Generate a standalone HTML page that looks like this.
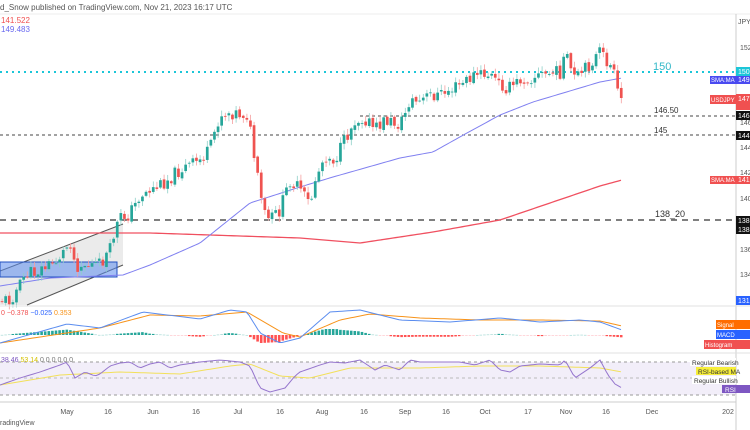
<!DOCTYPE html>
<html><head><meta charset="utf-8"><style>
body{margin:0;background:#fff;width:750px;height:430px;overflow:hidden;font-family:"Liberation Sans",sans-serif}
svg{display:block}
text{font-family:"Liberation Sans",sans-serif}
</style></head><body>
<svg id="s" width="750" height="430" xmlns="http://www.w3.org/2000/svg">
<rect width="750" height="430" fill="#fff"/>
<text x="0" y="10" font-size="8" fill="#555">d_Snow published on TradingView.com, Nov 21, 2023 16:17 UTC</text>
<line x1="0" y1="14" x2="750" y2="14" stroke="#eee"/>
<text x="1" y="23" font-size="8" fill="#f05050">141.522</text>
<text x="1" y="32" font-size="8" fill="#6a6af0">149.483</text>
<polygon points="0,271 123,224 123,265 27,305 0,305" fill="#e6e6e6" opacity="0.8"/>
<line x1="0" y1="271" x2="123" y2="224" stroke="#555" stroke-width="1"/>
<line x1="27" y1="305" x2="123" y2="265" stroke="#555" stroke-width="1"/>
<rect x="0" y="262" width="117" height="15" fill="#5b8def" fill-opacity="0.55" stroke="#2250c0" stroke-width="1"/>
<line x1="0" y1="72" x2="736" y2="72" stroke="#1cc6d8" stroke-width="2" stroke-dasharray="2,4"/>
<text x="653" y="70" font-size="11" fill="#35b8c8">150</text>
<line x1="360" y1="116" x2="736" y2="116" stroke="#444" stroke-dasharray="3,3"/>
<text x="654" y="113" font-size="8" fill="#333">146.50</text>
<line x1="0" y1="135" x2="736" y2="135" stroke="#444" stroke-dasharray="3,3"/>
<text x="654" y="133" font-size="8" fill="#333">145</text>
<line x1="0" y1="220" x2="736" y2="220" stroke="#333" stroke-width="1.3" stroke-dasharray="6,5"/>
<text x="655" y="217" font-size="9" fill="#333">138_20</text>
<g id="main"></g>
<line x1="736" y1="14" x2="736" y2="430" stroke="#ccc"/>
<g font-size="7" fill="#555">
<text x="738" y="24">JPY</text>
<text x="740" y="50">152.</text><text x="740" y="125">146.</text><text x="740" y="150">144.</text>
<text x="740" y="175">142.</text><text x="740" y="201">140.</text><text x="740" y="252">136.</text><text x="740" y="277">134.</text>
</g>
<rect x="736" y="67" width="14" height="9" fill="#1cc6d8"/><text x="738" y="74" font-size="7" fill="#fff">150.</text>
<rect x="710" y="76" width="26" height="8" fill="#4a4af0"/><text x="711" y="82" font-size="6" fill="#fff">SMA:MA</text>
<rect x="736" y="76" width="14" height="8" fill="#4a4af0"/><text x="738" y="82" font-size="7" fill="#fff">149</text>
<rect x="710" y="95" width="26" height="9" fill="#f05050"/><text x="711" y="102" font-size="6" fill="#fff">USDJPY</text>
<rect x="736" y="94" width="14" height="16" fill="#f05050"/><text x="738" y="101" font-size="7" fill="#fff">147</text>
<rect x="736" y="111" width="14" height="9" fill="#111"/><text x="738" y="118" font-size="7" fill="#fff">146</text>
<rect x="736" y="131" width="14" height="9" fill="#111"/><text x="738" y="138" font-size="7" fill="#fff">144</text>
<rect x="710" y="176" width="26" height="8" fill="#f05050"/><text x="711" y="182" font-size="6" fill="#fff">SMA:MA</text>
<rect x="736" y="176" width="14" height="8" fill="#f05050"/><text x="738" y="182" font-size="7" fill="#fff">141</text>
<rect x="736" y="216" width="14" height="18" fill="#111"/><text x="738" y="223" font-size="7" fill="#fff">138</text><text x="738" y="232" font-size="7" fill="#fff">138</text>
<rect x="736" y="296" width="14" height="9" fill="#2962ff"/><text x="738" y="303" font-size="7" fill="#fff">131</text>
<line x1="0" y1="306" x2="750" y2="306" stroke="#e0e0e0"/>
<text x="1" y="315" font-size="7"><tspan fill="#f05050">0  −0.378</tspan><tspan fill="#2962ff"> −0.025</tspan><tspan fill="#f7931a"> 0.353</tspan></text>
<g id="macd"></g>
<rect x="716" y="320" width="20" height="9" fill="#ff6d00"/><text x="717" y="327" font-size="6" fill="#fff">Signal</text>
<rect x="736" y="320" width="14" height="9" fill="#ff6d00"/>
<rect x="716" y="330" width="20" height="9" fill="#2962ff"/><text x="717" y="337" font-size="6" fill="#fff">MACD</text>
<rect x="736" y="330" width="14" height="9" fill="#2962ff"/>
<rect x="704" y="340" width="32" height="9" fill="#f05050"/><text x="705" y="347" font-size="6" fill="#fff">Histogram</text>
<rect x="736" y="340" width="14" height="9" fill="#f05050"/>
<line x1="0" y1="353" x2="750" y2="353" stroke="#e0e0e0"/>
<rect x="0" y="362" width="736" height="33" fill="#7e57c2" fill-opacity="0.1"/>
<line x1="0" y1="362" x2="736" y2="362" stroke="#999" stroke-dasharray="3,3"/>
<line x1="0" y1="378" x2="736" y2="378" stroke="#bbb" stroke-dasharray="3,3"/>
<line x1="0" y1="395" x2="736" y2="395" stroke="#999" stroke-dasharray="3,3"/>
<text x="1" y="362" font-size="7"><tspan fill="#7e57c2">38.46</tspan><tspan fill="#d4c000"> 53.14</tspan><tspan fill="#777">  0  0  0  0  0  0</tspan></text>
<g id="rsi"></g>
<rect x="690" y="358" width="46" height="8" fill="#fff"/><text x="692" y="365" font-size="6.5" fill="#333">Regular Bearish</text>
<rect x="696" y="367" width="40" height="8" fill="#f6ee3a"/><text x="698" y="374" font-size="6.5" fill="#333">RSI-based MA</text>
<rect x="692" y="376" width="44" height="8" fill="#fff"/><text x="694" y="383" font-size="6.5" fill="#333">Regular Bullish</text>
<rect x="722" y="385" width="14" height="8" fill="#7e57c2"/><text x="725" y="392" font-size="6.5" fill="#fff">RSI</text>
<rect x="736" y="385" width="14" height="8" fill="#7e57c2"/>
<line x1="0" y1="402" x2="736" y2="402" stroke="#ccc"/>
<g font-size="7" fill="#555" text-anchor="middle">
<text x="67" y="414">May</text><text x="108" y="414">16</text><text x="153" y="414">Jun</text><text x="196" y="414">16</text>
<text x="238" y="414">Jul</text><text x="280" y="414">16</text><text x="322" y="414">Aug</text><text x="364" y="414">16</text>
<text x="405" y="414">Sep</text><text x="446" y="414">16</text><text x="485" y="414">Oct</text><text x="528" y="414">17</text>
<text x="566" y="414">Nov</text><text x="606" y="414">16</text><text x="652" y="414">Dec</text><text x="728" y="414">202</text>
</g>
<text x="0" y="425" font-size="7" fill="#555">radingView</text>
</svg>
<script>
const NS="http://www.w3.org/2000/svg";
function interp(pts,x){for(let i=0;i<pts.length-1;i++){const a=pts[i],b=pts[i+1];if(x>=a[0]&&x<=b[0]){return a[1]+(b[1]-a[1])*(x-a[0])/(b[0]-a[0]);}}return x<pts[0][0]?pts[0][1]:pts[pts.length-1][1];}
function poly(g,pts,col,w){const p=document.createElementNS(NS,"polyline");p.setAttribute("points",pts.map(q=>q.join(",")).join(" "));p.setAttribute("fill","none");p.setAttribute("stroke",col);p.setAttribute("stroke-width",w||1);g.appendChild(p);}
function rect(g,x,y,w,h,c){const r=document.createElementNS(NS,"rect");r.setAttribute("x",x);r.setAttribute("y",y);r.setAttribute("width",w);r.setAttribute("height",Math.max(h,0.8));r.setAttribute("fill",c);g.appendChild(r);}
let seed=11;function rnd(){seed=(seed*9301+49297)%233280;return seed/233280;}
const main=document.getElementById("main");
const red=[[0,233],[150,233],[300,238],[360,243],[433,232],[500,220],[600,186],[622,180]];
const blue=[[0,286],[50,278],[123,275],[150,265],[200,243],[250,203],[300,187],[333,177],[400,158],[433,152],[467,133],[500,115],[533,102],[600,82],[622,78]];
const P=(arr)=>{const o=[];for(let x=arr[0][0];x<=arr[arr.length-1][0];x+=3)o.push([x,interp(arr,x)]);return o;};
poly(main,P(red),"#f05060",1.3);poly(main,P(blue),"#8080f0",1);
const cl=[[2,300],[10,300],[20,285],[25,275],[40,270],[55,262],[65,250],[70,240],[75,265],[85,265],[100,265],[110,250],[115,230],[120,218],[128,215],[135,205],[140,195],[160,185],[180,170],[200,160],[210,150],[215,130],[220,115],[230,112],[248,115],[253,150],[260,195],[265,215],[270,220],[280,210],[290,180],[300,190],[310,205],[315,180],[325,155],[335,160],[345,140],[355,120],[365,118],[375,130],[385,120],[400,125],[410,100],[420,102],[430,95],[440,95],[460,85],[475,75],[490,75],[500,85],[510,88],[520,80],[540,75],[560,72],[565,55],[575,80],[585,70],[600,52],[605,60],[612,68],[618,90],[622,100]];
let prev=interp(cl,0);
for(let x=2;x<=622;x+=3.6){
 let c=interp(cl,x)+(rnd()-0.5)*14; if(x>615)c=interp(cl,x);
 let o=prev+(rnd()-0.5)*3; let up=c<o; let col=up?"#26a69a":"#ef5350";
 let top=Math.min(o,c),bot=Math.max(o,c);
 let hi=top-rnd()*5-1,lo=bot+rnd()*5+1;
 rect(main,x-0.3,hi,0.8,lo-hi,up?"#8fd0c8":"#f5a0a0");
 rect(main,x-1.3,top,2.7,bot-top,col);
 prev=c;
}
const mg=document.getElementById("macd");
const mb=[[0,343],[67,324],[100,328],[143,312],[200,319],[230,310],[247,312],[260,333],[280,343],[300,338],[330,312],[360,310],[400,320],[450,322],[500,318],[540,322],[580,320],[600,322],[622,330]];
const mo=[[0,343],[100,328],[150,315],[200,316],[247,312],[283,333],[300,337],[340,320],[370,314],[420,318],[480,320],[540,320],[600,321],[622,326]];
for(let x=2;x<=622;x+=3.6){const d=interp(mo,x)-interp(mb,x);let h=Math.max(-10,Math.min(6,d*0.6));const col=h>0?(h>1?"#26a69a":"#b2dfdb"):(h<-1?"#ff5252":"#ffcdd2");if(h>0)rect(mg,x-1.3,335-h,2.6,h,col);else rect(mg,x-1.3,335,2.6,-h,col);}
poly(mg,P(mo),"#f7931a",1);poly(mg,P(mb),"#5b8def",1);
const rg=document.getElementById("rsi");
const rs=[[0,385],[20,378],[40,372],[60,365],[67,362],[75,378],[85,372],[95,376],[100,374],[110,366],[120,363],[130,362],[140,368],[150,364],[160,362],[170,368],[180,365],[200,362],[220,360],[240,362],[250,366],[260,388],[270,392],[285,388],[295,376],[300,372],[320,365],[330,362],[345,363],[360,360],[375,370],[385,365],[400,370],[410,360],[420,362],[440,362],[460,362],[475,365],[490,360],[500,370],[510,372],[520,366],[540,364],[560,365],[565,360],[575,378],[590,368],[600,360],[608,375],[615,384],[622,388]];
const ry=[[0,385],[60,375],[120,372],[180,374],[230,366],[250,364],[280,376],[310,378],[350,368],[420,368],[480,366],[540,366],[600,368],[622,372]];
poly(rg,P(ry),"#f2e05a",1);poly(rg,P(rs),"#9575cd",1);
</script>
</body></html>
